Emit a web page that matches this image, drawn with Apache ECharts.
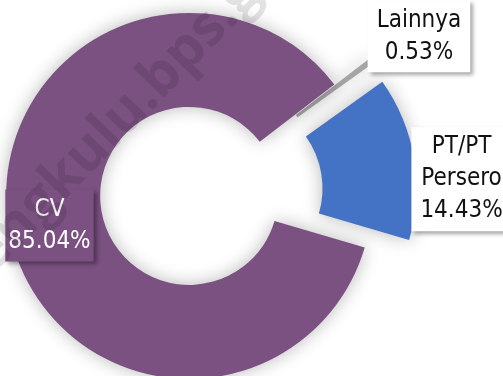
<!DOCTYPE html>
<html>
<head>
<meta charset="utf-8">
<style>html,body{margin:0;padding:0;background:#fff}#c{width:503px;height:376px}</style>
<script src="https://cdn.jsdelivr.net/npm/echarts@6/dist/echarts.min.js"></script>
</head>
<body>
<div id="c"></div>
<script>
const categories = ['Lainnya', 'PT/PT\nPersero', 'CV'];
const values = [0.53, 14.43, 85.04];
const exploded = [true, true, false];

const colors = ['#A5A5A5', '#4472C4', '#7A5180'];
const labelShift = [[82, -50], [91, 14], [-3, 4]];
const FONT = '"DejaVu Sans Condensed", "Liberation Sans Narrow", sans-serif';

const lightBox = {
  color: '#111', backgroundColor: '#fff', padding: [4, 9],
  shadowColor: 'rgba(0,0,0,0.35)', shadowBlur: 4, shadowOffsetX: 3, shadowOffsetY: 3
};
const darkBox = {
  color: '#fff', backgroundColor: '#7A5180', padding: [4, 3],
  shadowColor: 'rgba(0,0,0,0.35)', shadowBlur: 4, shadowOffsetX: 3, shadowOffsetY: 3
};
const boxes = [lightBox, lightBox, darkBox];

const data = categories.map((name, i) => ({
  name: name,
  value: values[i],
  selected: exploded[i],
  itemStyle: { color: colors[i] },
  select: { itemStyle: { color: colors[i], borderWidth: 0 } },
  label: boxes[i]
}));

const chart = echarts.init(document.getElementById('c'), null, { renderer: 'canvas' });
chart.setOption({
  animation: false,
  backgroundColor: '#fff',
  series: [{
    type: 'pie',
    center: ['37.6%', '52.1%'],
    radius: [89, 183],
    startAngle: 37.5,
    clockwise: true,
    selectedMode: 'multiple',
    selectedOffset: 45,
    avoidLabelOverlap: false,
    itemStyle: {
      borderWidth: 0,
      shadowBlur: 18,
      shadowColor: 'rgba(0,0,0,0.28)'
    },
    label: {
      show: true,
      position: 'inside',
      fontFamily: FONT,
      fontSize: 24,
      lineHeight: 32,
      align: 'center',
      formatter: p => p.name + '\n' + p.value.toFixed(2) + '%'
    },
    labelLine: { show: false },
    labelLayout: function (params) {
      const s = labelShift[params.dataIndex];
      return { dx: s[0], dy: s[1] };
    },
    emphasis: { disabled: true },
    data: data
  }],
  graphic: [{
    type: 'text',
    x: -44, y: 290,
    rotation: 46 * Math.PI / 180,
    z: 100,
    silent: true,
    style: {
      text: 'bengkulu.bps.go.id',
      font: 'bold 56px "Open Sans", sans-serif',
      fill: 'rgba(0,0,0,0.11)',
      textAlign: 'left',
      textVerticalAlign: 'middle'
    }
  }]
});
</script>
</body>
</html>
